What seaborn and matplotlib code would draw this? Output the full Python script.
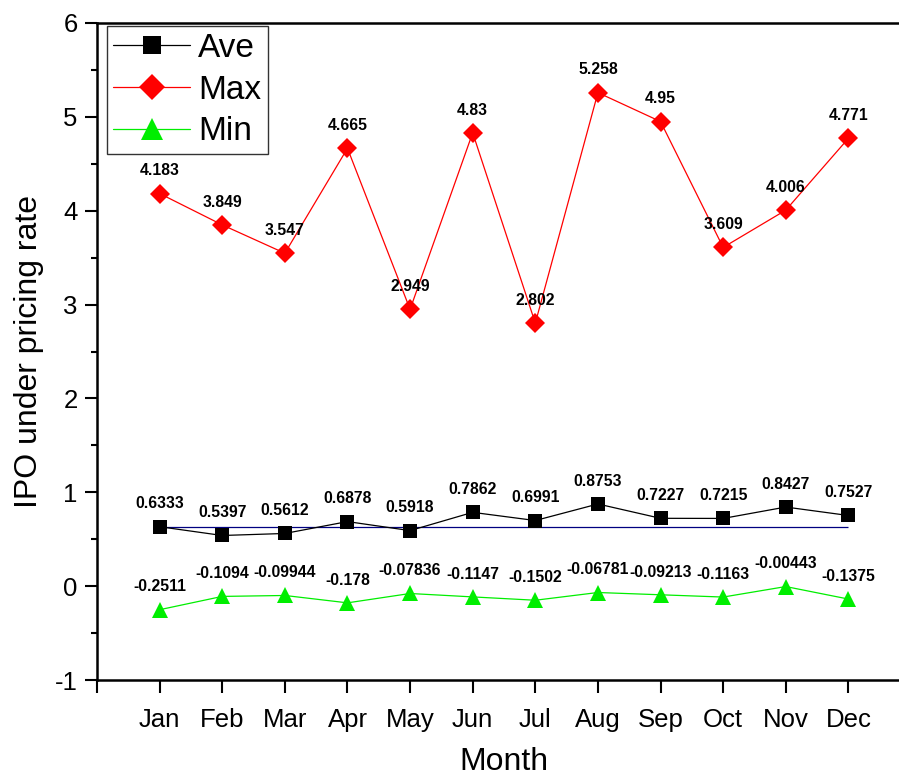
import matplotlib
matplotlib.use("Agg")
import matplotlib.pyplot as plt
import seaborn as sns
import pandas as pd
from matplotlib.ticker import MultipleLocator, FixedLocator

months = ["Jan", "Feb", "Mar", "Apr", "May", "Jun", "Jul", "Aug", "Sep", "Oct", "Nov", "Dec"]
ave = [0.6333, 0.5397, 0.5612, 0.6878, 0.5918, 0.7862, 0.6991, 0.8753, 0.7227, 0.7215, 0.8427, 0.7527]
mx = [4.183, 3.849, 3.547, 4.665, 2.949, 4.83, 2.802, 5.258, 4.95, 3.609, 4.006, 4.771]
mn = [-0.2511, -0.1094, -0.09944, -0.178, -0.07836, -0.1147, -0.1502, -0.06781, -0.09213, -0.1163, -0.00443, -0.1375]
ave_labels = ["0.6333", "0.5397", "0.5612", "0.6878", "0.5918", "0.7862", "0.6991", "0.8753", "0.7227", "0.7215", "0.8427", "0.7527"]
max_labels = ["4.183", "3.849", "3.547", "4.665", "2.949", "4.83", "2.802", "5.258", "4.95", "3.609", "4.006", "4.771"]
min_labels = ["-0.2511", "-0.1094", "-0.09944", "-0.178", "-0.07836", "-0.1147", "-0.1502", "-0.06781", "-0.09213", "-0.1163", "-0.00443", "-0.1375"]

sns.set_style("ticks")
plt.rcParams["font.family"] = ["Liberation Sans", "DejaVu Sans"]
plt.rcParams["axes.unicode_minus"] = False
plt.rcParams["text.color"] = "black"
plt.rcParams["axes.labelcolor"] = "black"
plt.rcParams["xtick.color"] = "black"
plt.rcParams["ytick.color"] = "black"

pos = list(range(1, 13))
df = pd.DataFrame({"pos": pos, "Ave": ave, "Max": mx, "Min": mn})

fig = plt.figure(figsize=(8.99, 7.76), dpi=100)
ax = fig.add_axes([97 / 899, 96 / 776, 814 / 899, 657 / 776])

# reference line at January average
ax.hlines(ave[0], 1, 12, color="#000080", lw=0.9, zorder=1)

series = [
    ("Ave", "black", "s", 9.5, ave_labels),
    ("Max", "red", "D", 10, max_labels),
    ("Min", "#00ee00", "^", 12, min_labels),
]
for name, col, mk, ms, labels in series:
    sns.lineplot(data=df, x="pos", y=name, ax=ax, color=col, marker=mk,
                 markersize=ms, markeredgewidth=0, linewidth=0.9, label=name, zorder=3)
    for x, y, t in zip(pos, df[name], labels):
        ax.annotate(t, (x, y), xytext=(0, 11), textcoords="offset points",
                    ha="center", va="bottom", fontsize=11.3, fontweight="bold")

ax.set_xlim(0, 13)
ax.set_ylim(-1, 6)
ax.xaxis.set_major_locator(FixedLocator(range(0, 13)))
ax.set_xticklabels([""] + months)
ax.yaxis.set_major_locator(MultipleLocator(1))
ax.yaxis.set_minor_locator(MultipleLocator(0.5))
ax.tick_params(axis="both", which="major", direction="out", length=9, width=1.5,
               labelsize=18.5, pad=5)
ax.tick_params(axis="y", which="minor", direction="out", length=4.5, width=1.5)
ax.tick_params(axis="x", pad=11)
for s in ["left", "bottom", "top"]:
    ax.spines[s].set_linewidth(1.8)
    ax.spines[s].set_color("black")
ax.spines["right"].set_visible(False)

ax.set_xlabel("Month", fontsize=23, labelpad=11)
ax.set_ylabel("IPO under pricing rate", fontsize=23, labelpad=8)

leg = ax.legend(loc="upper left", bbox_to_anchor=(0.012, 0.995), fontsize=24,
                frameon=True, fancybox=False, handlelength=2.3, handletextpad=0.25,
                borderpad=0.2, labelspacing=0.32, borderaxespad=0, markerscale=1.3)
leg.get_frame().set_edgecolor("black")
leg.get_frame().set_linewidth(1.0)
for h, a in zip(leg.get_lines(), [0.7, 0.55, 0.55]):
    h.set_alpha(a)
for h in leg.legend_handles:
    h.set_alpha(1)

fig.savefig("out.png", dpi=100)
